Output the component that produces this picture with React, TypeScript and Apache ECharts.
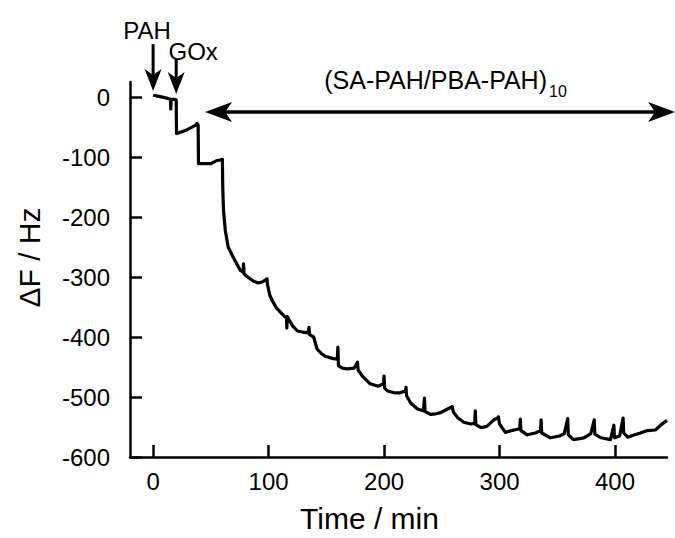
import React, { useEffect, useRef } from 'react';
import * as echarts from 'echarts';

// Time (min) and frequency shift (Hz)
const timeMin = [
  0, 5, 10, 14, 15, 15.3, 15.6, 19, 20, 20.3,
  25, 30, 37, 38, 39, 39.3, 45, 50, 55, 58,
  60, 60.3, 61, 62.5, 65, 69.6, 75.6, 78, 78.3, 78.8,
  82, 87, 91, 95, 98.6, 99, 101, 103, 107, 110,
  114, 115.5, 115.8, 116.2, 118, 121, 125, 130, 134, 135,
  135.5, 139, 142, 146, 149, 156, 159.5, 160, 160.5, 164,
  168, 174, 177, 177.5, 182, 188, 195, 199.5, 200, 200.5,
  203, 209, 214, 218.5, 219, 219.5, 223, 229, 234, 235,
  235.5, 240, 245, 249, 255, 259, 260, 264, 269, 275,
  278.5, 279, 279.5, 284, 289, 295, 298.5, 299, 300, 305,
  310, 317.5, 318, 318.5, 324, 331, 335.5, 336, 336.5, 344,
  352, 356, 359, 359.5, 364, 373, 379, 382, 382.5, 388,
  396, 399, 399.5, 404, 407, 407.5, 411, 417, 422, 428,
  435, 440, 445,
];
const deltaF = [
  3, 1, -1, -3, -4, -20, -4, -4, -5, -61,
  -58, -54, -47, -44, -47, -111, -111, -111, -106, -105,
  -104, -150, -190, -222, -250, -268, -289, -292, -278, -295,
  -300, -307, -310, -308, -303, -312, -330, -339, -352, -358,
  -366, -368, -385, -366, -372, -382, -390, -392, -393, -384,
  -396, -400, -420, -428, -432, -436, -437, -417, -448, -452,
  -453, -452, -442, -455, -467, -478, -482, -478, -465, -485,
  -490, -493, -493, -490, -484, -498, -510, -520, -523, -502,
  -524, -529, -528, -526, -520, -516, -525, -535, -542, -545,
  -544, -523, -546, -551, -549, -538, -535, -533, -545, -559,
  -556, -553, -537, -556, -563, -560, -556, -538, -560, -568,
  -565, -561, -536, -563, -571, -568, -561, -538, -562, -568,
  -571, -547, -568, -565, -535, -560, -567, -563, -560, -556,
  -555, -546, -539,
];

const xTicks = [0, 100, 200, 300, 400];
const yTicks = [-600, -500, -400, -300, -200, -100, 0];

const injectionLabels = ['PAH', 'GOx'];
const injectionTimes = [0, 20];
const bilayerLabel = '(SA-PAH/PBA-PAH)';
const bilayerSub = '10';

export default function App() {
  const ref = useRef<HTMLDivElement>(null);
  useEffect(() => {
    if (!ref.current) return;
    const chart = echarts.init(ref.current, null, { renderer: 'svg' });
    const font = '"Liberation Sans", Arial, Helvetica, sans-serif';
    const axisLine = { onZero: false, lineStyle: { color: '#000', width: 2.5 } };
    chart.setOption({
      animation: false,
      backgroundColor: '#fff',
      textStyle: { fontFamily: font },
      grid: { left: 130, right: 8, top: 82, bottom: 80, containLabel: false },
      xAxis: {
        type: 'value',
        min: -20,
        max: 445,
        name: 'Time / min',
        nameLocation: 'middle',
        nameGap: 46,
        nameTextStyle: { fontSize: 30, color: '#000', fontFamily: font, padding: [0, 58, 0, 0] },
        axisLine,
        splitLine: { show: false },
        axisTick: { inside: true, length: 12, lineStyle: { color: '#000', width: 2.5 }, customValues: xTicks },
        axisLabel: { fontSize: 24, color: '#000', margin: 12, fontFamily: font, customValues: xTicks },
      },
      yAxis: {
        type: 'value',
        min: -600,
        max: 25,
        name: 'ΔF / Hz',
        nameLocation: 'middle',
        nameGap: 86,
        nameTextStyle: { fontSize: 30, color: '#000', fontFamily: font, padding: [0, 0, 0, 24] },
        axisLine,
        splitLine: { show: false },
        axisTick: { inside: true, length: 12, lineStyle: { color: '#000', width: 2.5 }, customValues: yTicks },
        axisLabel: { fontSize: 24, color: '#000', margin: 20, fontFamily: font, customValues: yTicks },
      },
      series: [
        {
          type: 'line',
          data: timeMin.map((t, i) => [t, deltaF[i]]),
          showSymbol: false,
          symbol: 'none',
          lineStyle: { color: '#000', width: 3.2, join: 'round' },
          clip: false,
        },
      ],
    });

    const px = (t: number, f: number) => chart.convertToPixel({ gridIndex: 0 }, [t, f]) as number[];
    const g: any[] = [];
    const vArrow = (t: number, fTip: number, fTail: number) => {
      const [x, yTip] = px(t, fTip);
      const [, yTail] = px(t, fTail);
      g.push({ type: 'line', shape: { x1: x, y1: yTail, x2: x, y2: yTip - 10 }, style: { stroke: '#000', lineWidth: 3 } });
      g.push({ type: 'polygon', shape: { points: [[x, yTip], [x - 8.5, yTip - 22], [x, yTip - 16], [x + 8.5, yTip - 22]] }, style: { fill: '#000' } });
      return [x, yTail];
    };
    const [pahX, pahTop] = vArrow(injectionTimes[0], 10, 88);
    const [goxX, goxTop] = vArrow(injectionTimes[1], 5, 63);
    g.push({ type: 'text', style: { x: pahX - 6, y: pahTop - 14, text: injectionLabels[0], fontSize: 24, fontFamily: font, fill: '#000', align: 'center', verticalAlign: 'middle' } });
    g.push({ type: 'text', style: { x: goxX + 17, y: goxTop - 8, text: injectionLabels[1], fontSize: 24, fontFamily: font, fill: '#000', align: 'center', verticalAlign: 'middle' } });

    const [xl, yh] = px(45, -25);
    const [xr] = px(452, -25);
    g.push({ type: 'line', shape: { x1: xl + 12, y1: yh, x2: xr - 12, y2: yh }, style: { stroke: '#000', lineWidth: 3.5 } });
    g.push({ type: 'polygon', shape: { points: [[xl, yh], [xl + 27, yh - 10], [xl + 20, yh], [xl + 27, yh + 10]] }, style: { fill: '#000' } });
    g.push({ type: 'polygon', shape: { points: [[xr, yh], [xr - 27, yh - 10], [xr - 20, yh], [xr - 27, yh + 10]] }, style: { fill: '#000' } });
    g.push({ type: 'text', style: { x: 547, y: yh - 32, text: bilayerLabel, fontSize: 25, fontFamily: font, fill: '#000', align: 'right', verticalAlign: 'middle' } });
    g.push({ type: 'text', style: { x: 549, y: yh - 21, text: bilayerSub, fontSize: 16, fontFamily: font, fill: '#000', align: 'left', verticalAlign: 'middle' } });

    chart.setOption({ graphic: g });
    return () => chart.dispose();
  }, []);
  return <div ref={ref} style={{ position: 'fixed', left: 0, top: 0, width: 675, height: 538 }} />;
}
